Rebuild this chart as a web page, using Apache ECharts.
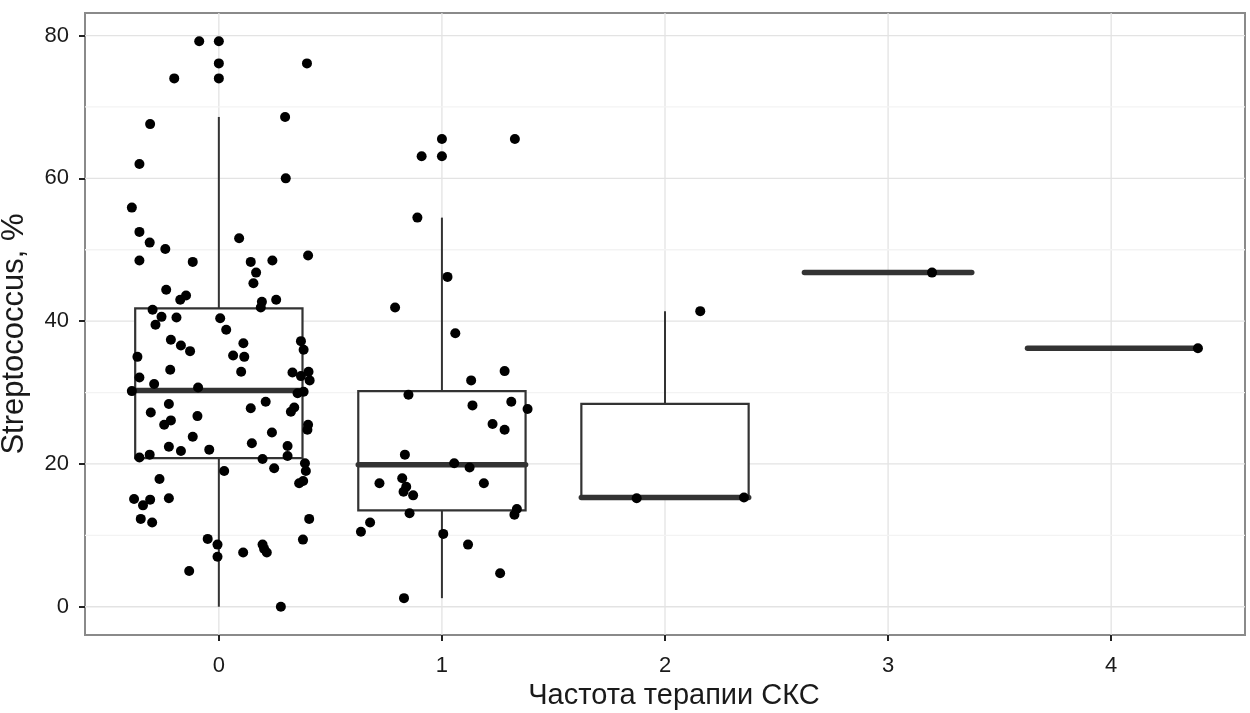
<!DOCTYPE html>
<html>
<head>
<meta charset="utf-8">
<script src="https://cdn.jsdelivr.net/npm/echarts@6/dist/echarts.min.js"></script>
<style>
  html, body { margin: 0; padding: 0; background: #ffffff; }
  #chart { width: 1250px; height: 713px; }
</style>
</head>
<body>
<div id="chart"></div>
<script>
// ---------- data ----------
const categories = ['0', '1', '2', '3', '4'];
const yTicks = [0, 20, 40, 60, 80];
const yMinorTicks = [10, 30, 50, 70];

// box-plot statistics per category (lower whisker, Q1, median, Q3, upper whisker)
const boxLow    = [0.0, 1.2, 15.2, 46.8, 36.2];
const boxQ1     = [20.8, 13.5, 15.3, 46.8, 36.2];
const boxMedian = [30.3, 19.9, 15.3, 46.8, 36.2];
const boxQ3     = [41.8, 30.2, 28.4, 46.8, 36.2];
const boxHigh   = [68.6, 54.5, 41.4, 46.8, 36.2];

// outliers drawn by the boxplot at the category centre
const outlierGroup = [0, 0, 0, 1, 1];
const outlierValue = [79.2, 76.1, 74.0, 65.5, 63.1];

// jittered observations: values and horizontal jitter offsets
const group0Values = [79.2, 76.1, 74.0, 68.6, 67.6, 62.0, 60.0, 55.9, 52.5, 51.0,
  50.1, 48.5, 48.3, 51.6, 48.3, 48.5, 49.2, 46.8, 45.3, 44.4,
  43.6, 43.0, 42.7, 43.0, 41.9, 41.6, 40.6, 40.5, 39.5, 40.4,
  38.8, 37.4, 36.6, 35.8, 36.9, 37.2, 36.0, 35.2, 35.0, 35.0,
  33.2, 32.9, 32.1, 32.8, 32.3, 32.9, 31.7, 31.2, 30.2, 30.7,
  29.9, 30.1, 28.4, 28.7, 27.8, 27.2, 27.9, 27.3, 26.7, 26.1,
  25.5, 25.5, 24.8, 23.8, 24.4, 22.4, 21.8, 22.0, 22.9, 22.5,
  20.9, 21.3, 20.7, 21.1, 20.1, 19.4, 19.0, 19.0, 17.6, 17.3,
  17.9, 15.1, 15.0, 14.2, 15.2, 12.3, 11.8, 12.3, 9.4, 9.5,
  8.7, 7.0, 7.6, 8.7, 8.1, 7.6, 5.0, 0.0];
const group0Jitter = [-0.088, 0.395, -0.200, 0.297, -0.308, -0.356, 0.300, -0.390, -0.356, -0.310,
  -0.240, -0.356, -0.117, 0.091, 0.143, 0.240, 0.400, 0.167, 0.155, -0.236,
  -0.147, -0.173, 0.193, 0.257, 0.188, -0.297, -0.257, -0.190, -0.284, 0.006,
  0.033, -0.215, -0.170, -0.129, 0.110, 0.368, 0.380, 0.064, 0.114, -0.365,
  -0.218, 0.100, -0.356, 0.330, 0.368, 0.402, 0.407, -0.290, -0.390, -0.093,
  0.353, 0.380, -0.224, 0.210, 0.143, -0.305, 0.338, 0.323, -0.096, -0.215,
  -0.245, 0.400, 0.397, -0.117, 0.238, -0.224, -0.170, -0.043, 0.148, 0.308,
  -0.356, -0.310, 0.196, 0.308, 0.386, 0.248, 0.390, 0.024, 0.378, 0.360,
  -0.266, -0.380, -0.308, -0.340, -0.224, -0.350, -0.299, 0.405, 0.377, -0.050,
  -0.006, -0.006, 0.109, 0.196, 0.203, 0.215, -0.133, 0.278];

const group1Values = [65.5, 63.1, 54.5, 46.2, 41.9, 38.3, 33.0, 31.7, 29.7, 28.2,
  28.7, 27.7, 25.6, 24.8, 21.3, 20.1, 19.5, 17.3, 18.0, 16.8,
  16.1, 15.6, 17.3, 13.1, 13.7, 12.9, 11.8, 10.5, 10.2, 8.7,
  4.7, 1.2];
const group1Jitter = [0.327, -0.091, -0.110, 0.025, -0.210, 0.060, 0.281, 0.131, -0.150, 0.137,
  0.311, 0.384, 0.227, 0.281, -0.166, 0.055, 0.124, -0.280, -0.178, -0.160,
  -0.172, -0.129, 0.188, -0.145, 0.336, 0.325, -0.322, -0.363, 0.006, 0.117,
  0.261, -0.170];

const group2Values = [15.2, 15.3, 41.4];
const group2Jitter = [-0.127, 0.354, 0.158];
const group3Values = [46.8];
const group3Jitter = [0.197];
const group4Values = [36.2];
const group4Jitter = [0.389];

const groupValues = [group0Values, group1Values, group2Values, group3Values, group4Values];
const groupJitter = [group0Jitter, group1Jitter, group2Jitter, group3Jitter, group4Jitter];

// ---------- build series data ----------
const BOX_WIDTH = 0.75;
const boxData = categories.map((c, i) => [i, boxLow[i], boxQ1[i], boxMedian[i], boxQ3[i], boxHigh[i]]);

const pointData = [];
groupValues.forEach((vals, g) => {
  vals.forEach((v, i) => pointData.push([g + groupJitter[g][i], v]));
});
outlierValue.forEach((v, i) => pointData.push([outlierGroup[i], v]));

const gridData = [];
categories.forEach((c, i) => gridData.push([0, i]));
yTicks.forEach(v => gridData.push([1, v]));
yMinorTicks.forEach(v => gridData.push([2, v]));

const FONT = 'Liberation Sans, Arial, sans-serif';
const INK = '#333333';

function renderGrid(params, api) {
  const kind = api.value(0);
  const v = api.value(1);
  const cs = params.coordSys;
  if (kind === 0) {
    const p = api.coord([v, 0]);
    return { type: 'line', shape: { x1: p[0], y1: cs.y, x2: p[0], y2: cs.y + cs.height },
      style: { stroke: '#e3e3e3', lineWidth: 1.3 } };
  }
  const p = api.coord([0, v]);
  return { type: 'line', shape: { x1: cs.x, y1: p[1], x2: cs.x + cs.width, y2: p[1] },
    style: { stroke: kind === 1 ? '#e3e3e3' : '#f3f3f3', lineWidth: 1.3 } };
}

function renderBox(params, api) {
  const x = api.value(0);
  const lo = api.coord([x, api.value(1)]);
  const q1 = api.coord([x, api.value(2)]);
  const md = api.coord([x, api.value(3)]);
  const q3 = api.coord([x, api.value(4)]);
  const hi = api.coord([x, api.value(5)]);
  const half = api.size([BOX_WIDTH, 0])[0] / 2;
  const children = [];
  if (hi[1] < q3[1]) {
    children.push({ type: 'line', shape: { x1: q3[0], y1: hi[1], x2: q3[0], y2: q3[1] },
      style: { stroke: INK, lineWidth: 2 } });
  }
  if (lo[1] > q1[1]) {
    children.push({ type: 'line', shape: { x1: q1[0], y1: q1[1], x2: q1[0], y2: lo[1] },
      style: { stroke: INK, lineWidth: 2 } });
  }
  if (q1[1] - q3[1] > 0.5) {
    children.push({ type: 'rect', shape: { x: q3[0] - half, y: q3[1], width: 2 * half, height: q1[1] - q3[1] },
      style: { fill: '#ffffff', stroke: INK, lineWidth: 2.2 } });
  }
  children.push({ type: 'line', shape: { x1: md[0] - half, y1: md[1], x2: md[0] + half, y2: md[1] },
    style: { stroke: INK, lineWidth: 5.5, lineCap: 'round' } });
  return { type: 'group', children: children };
}

const chart = echarts.init(document.getElementById('chart'), null, { renderer: 'canvas' });
chart.setOption({
  animation: false,
  backgroundColor: '#ffffff',
  grid: {
    left: 85, right: 5, top: 13, bottom: 78,
    show: true, borderColor: '#8a8a8a', borderWidth: 2, backgroundColor: '#ffffff',
    containLabel: false, outerBoundsMode: 'none'
  },
  xAxis: {
    type: 'value', min: -0.6, max: 4.6,
    name: 'Частота терапии СКС', nameLocation: 'middle', nameGap: 44,
    nameTextStyle: { fontFamily: FONT, fontSize: 29, color: '#1a1a1a', padding: [0, 0, 0, 18] },
    axisLine: { show: true, onZero: false, lineStyle: { color: '#8a8a8a', width: 2 } },
    axisTick: { show: true, inside: false, length: 6, customValues: [0, 1, 2, 3, 4], lineStyle: { color: '#222', width: 2 } },
    axisLabel: { show: true, customValues: [0, 1, 2, 3, 4], margin: 20,
      formatter: v => categories[Math.round(v)],
      fontFamily: FONT, fontSize: 22, color: '#1a1a1a' },
    splitLine: { show: false }
  },
  yAxis: {
    type: 'value', min: -3.96, max: 83.16,
    name: 'Streptococcus, %', nameLocation: 'middle', nameGap: 55, nameRotate: 90,
    nameTextStyle: { fontFamily: FONT, fontSize: 31, color: '#1a1a1a', padding: [0, 20, 0, 0] },
    axisLine: { show: true, onZero: false, lineStyle: { color: '#8a8a8a', width: 2 } },
    axisTick: { show: true, inside: false, length: 6, customValues: yTicks, lineStyle: { color: '#222', width: 2 } },
    axisLabel: { show: true, customValues: yTicks, margin: 16,
      fontFamily: FONT, fontSize: 22, color: '#1a1a1a' },
    splitLine: { show: false }
  },
  series: [
    { type: 'custom', name: 'grid', renderItem: renderGrid, data: gridData, silent: true, z: 1,
      encode: { x: -1, y: -1 } },
    { type: 'custom', name: 'box', renderItem: renderBox, data: boxData, z: 2,
      encode: { x: 0, y: [1, 2, 3, 4, 5] } },
    { type: 'scatter', name: 'points', data: pointData, symbol: 'circle', symbolSize: 10,
      itemStyle: { color: '#000000', opacity: 1 }, z: 3 }
  ]
});
</script>
</body>
</html>
